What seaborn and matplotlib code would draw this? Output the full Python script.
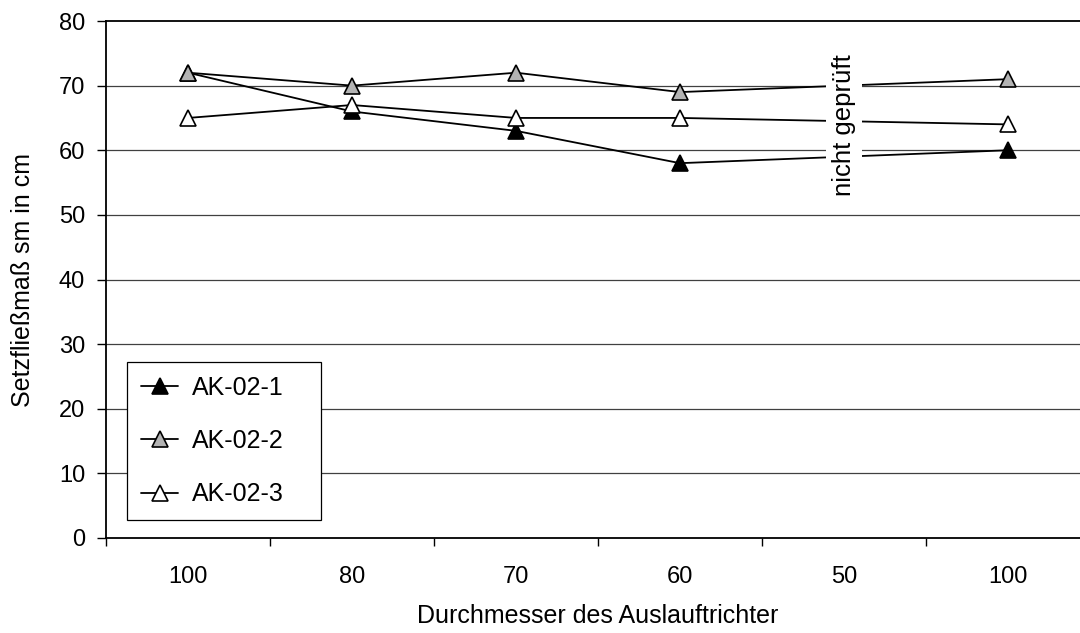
import numpy as np
import pandas as pd
import matplotlib
matplotlib.use("Agg")
import matplotlib.pyplot as plt
import seaborn as sns

categories = ["100", "80", "70", "60", "50", "100"]
ak1 = [72, 66, 63, 58, np.nan, 60]
ak2 = [72, 70, 72, 69, np.nan, 71]
ak3 = [65, 67, 65, 65, np.nan, 64]
series_names = ["AK-02-1", "AK-02-2", "AK-02-3"]
face_colors = ["black", "#b3b3b3", "white"]

sns.set_style("ticks")
plt.rcParams['font.family'] = ['Liberation Sans', 'DejaVu Sans']
plt.rcParams['text.color'] = 'black'
plt.rcParams['xtick.color'] = 'black'
plt.rcParams['ytick.color'] = 'black'
plt.rcParams['axes.labelcolor'] = 'black'

W, H = 1080, 633
fig = plt.figure(figsize=(W / 100, H / 100), dpi=100)
ax_l, ax_r, ax_t, ax_b = 106, 1090, 21, 538
aw, ah = ax_r - ax_l, ax_b - ax_t
ax = fig.add_axes([ax_l / W, 1 - ax_b / H, aw / W, ah / H])

pos = np.arange(len(categories))
for name, vals, fc in zip(series_names, [ak1, ak2, ak3], face_colors):
    df = pd.DataFrame({"pos": pos, "val": vals}).dropna()
    sns.lineplot(data=df, x="pos", y="val", ax=ax, color="black", lw=1.3,
                 marker="^", markersize=12, markerfacecolor=fc,
                 markeredgecolor="black", markeredgewidth=1.2, label=name,
                 zorder=3)

ax.set_xlim(-0.5, len(categories) - 0.5)
ax.set_ylim(0, 80)
ax.set_yticks(np.arange(0, 81, 10))
ax.set_xticks(pos)
ax.set_xticklabels(categories)
ax.set_xticks(np.arange(-0.5, len(categories), 1.0), minor=True)
ax.tick_params(axis="x", which="major", length=0, pad=20, labelsize=17, labelcolor="black")
ax.tick_params(axis="x", which="minor", length=6, width=1.0, direction="out", color="black")
ax.tick_params(axis="y", length=6.5, width=1.0, direction="out", labelsize=17,
               color="black", labelcolor="black", pad=8.5)
for y in range(10, 80, 10):
    ax.axhline(y, color="#404040", lw=0.9, zorder=1)
for s in ["left", "top", "bottom"]:
    ax.spines[s].set_color("black")
    ax.spines[s].set_linewidth(1.3)
ax.spines["right"].set_visible(False)

ax.set_xlabel("")
ax.set_ylabel("")
fig.text(598 / W, 1 - 623 / H, "Durchmesser des Auslauftrichter", fontsize=18,
         ha="center", va="baseline", color="black")
fig.text(23 / W, 1 - 280 / H, "Setzfließmaß sm in cm", fontsize=18,
         ha="center", va="center", rotation=90, color="black")

ax.text(4, 63.9, "nicht geprüft", rotation=90, fontsize=18.5, ha="center", va="center",
        color="black", bbox=dict(facecolor="white", edgecolor="none", pad=4), zorder=4)

lx0 = (127 - ax_l) / aw
lw_ = 194 / aw
ltop = (ax_b - 362) / ah
lh = 161 / ah
leg = ax.legend(loc="upper left", bbox_to_anchor=(lx0, ltop - lh, lw_, lh),
                mode="expand", borderaxespad=0, fontsize=18,
                frameon=True, fancybox=False, edgecolor="black", framealpha=1,
                borderpad=0.55, labelspacing=1.17, handlelength=1.5, handletextpad=0.56)
leg.get_frame().set_linewidth(0.9)
for t in leg.get_texts():
    t.set_color("black")

fig.savefig("out.png", dpi=100)
